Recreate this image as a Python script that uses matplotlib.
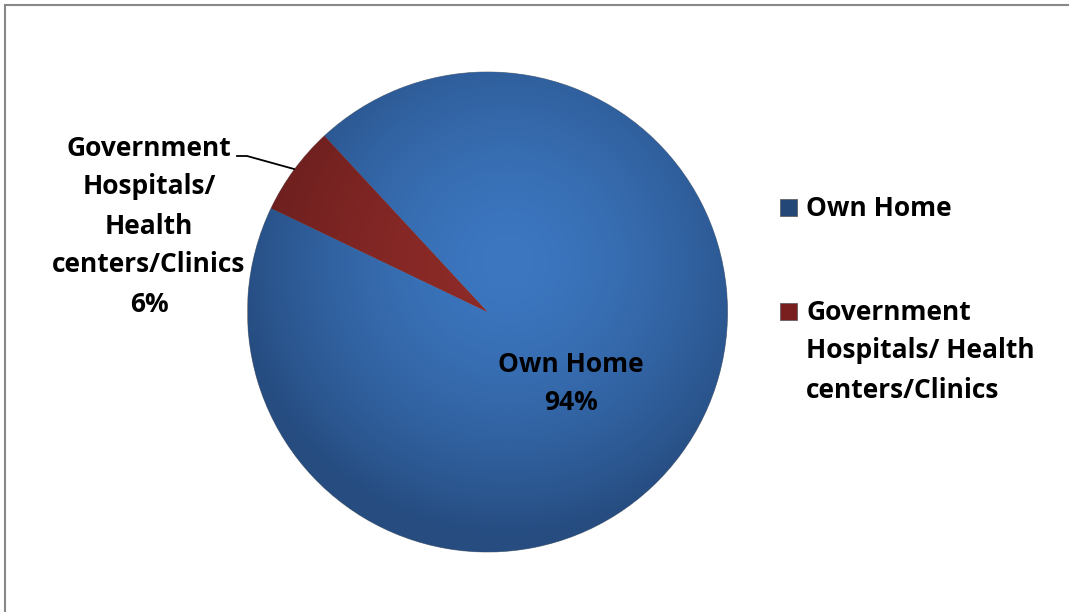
import numpy as np
import matplotlib
matplotlib.use("Agg")
import matplotlib.pyplot as plt
from matplotlib.patches import Rectangle
from matplotlib.lines import Line2D

# data
categories = ["Own Home", "Government Hospitals/ Health centers/Clinics"]
shares = [94, 6]
slice_labels = ["Own Home\n94%", "Government\nHospitals/\nHealth\ncenters/Clinics\n6%"]
legend_labels = ["Own Home", "Government\nHospitals/ Health\ncenters/Clinics"]

# (light centre, dark edge) per slice
grad_colors = [("#3c77c0", "#264c80"), ("#8e2b28", "#661d1d")]
legend_colors = ["#234777", "#7a1f1f"]

FONT = dict(family="Open Sans", weight="bold", size=19, color="black")
LINE_PX = 39

W, H = 1070, 612
fig = plt.figure(figsize=(W / 100, H / 100), dpi=100)
ax = fig.add_axes([0, 0, 1, 1])

cx, cy, r = 487.5, H - 312, 240
wedges, _ = ax.pie(shares, startangle=132.8, counterclock=False,
                   center=(cx, cy), radius=r, colors=[c[1] for c in grad_colors],
                   wedgeprops=dict(linewidth=0.6, edgecolor="#8a8a8a"), frame=True)
ax.axis("off")
ax.set_xlim(0, W)
ax.set_ylim(0, H)
ax.set_aspect("equal")

# radial shading inside each slice
yy, xx = np.mgrid[cy - r:cy + r:400j, cx - r:cx + r:400j]
dist = np.hypot(xx - (cx + 20), yy - (cy + 50)) / (r * 1.15)
t = np.clip(dist, 0, 1) ** 1.6
for w, (light, dark) in zip(wedges, grad_colors):
    c0 = np.array(matplotlib.colors.to_rgb(light))
    c1 = np.array(matplotlib.colors.to_rgb(dark))
    img = c0[None, None, :] * (1 - t[..., None]) + c1[None, None, :] * t[..., None]
    im = ax.imshow(img, extent=(cx - r, cx + r, cy - r, cy + r), origin="lower",
                   zorder=w.get_zorder() + 0.1, interpolation="bilinear")
    im.set_clip_path(w)


def stacked_text(x, y_first, text, ha):
    # one text per line so the line pitch matches the original
    for i, line in enumerate(text.split("\n")):
        ax.text(x, H - (y_first + i * LINE_PX), line, ha=ha, va="center",
                zorder=5, **FONT)


# data labels
stacked_text(571, 364, slice_labels[0], "center")
stacked_text(149, 148, slice_labels[1], "center")
ax.add_line(Line2D([237, 247, 294], [H - 156, H - 156, H - 169],
                   color="black", lw=1.3, zorder=5))

# legend
for y_px, lab, col in zip([208, 312], legend_labels, legend_colors):
    ax.add_patch(Rectangle((780, H - y_px - 8), 17, 17, facecolor=col,
                           edgecolor="#555555", lw=0.5, zorder=5))
    stacked_text(806, y_px, lab, "left")

# chart frame (top and left edges)
fig.add_artist(Line2D([7 / W, 1068 / W], [1 - 5 / H, 1 - 5 / H],
                      color="#888888", lw=1.5, transform=fig.transFigure))
fig.add_artist(Line2D([5 / W, 5 / W], [0, 1 - 5 / H],
                      color="#888888", lw=1.5, transform=fig.transFigure))

fig.savefig("out.png", dpi=100)
